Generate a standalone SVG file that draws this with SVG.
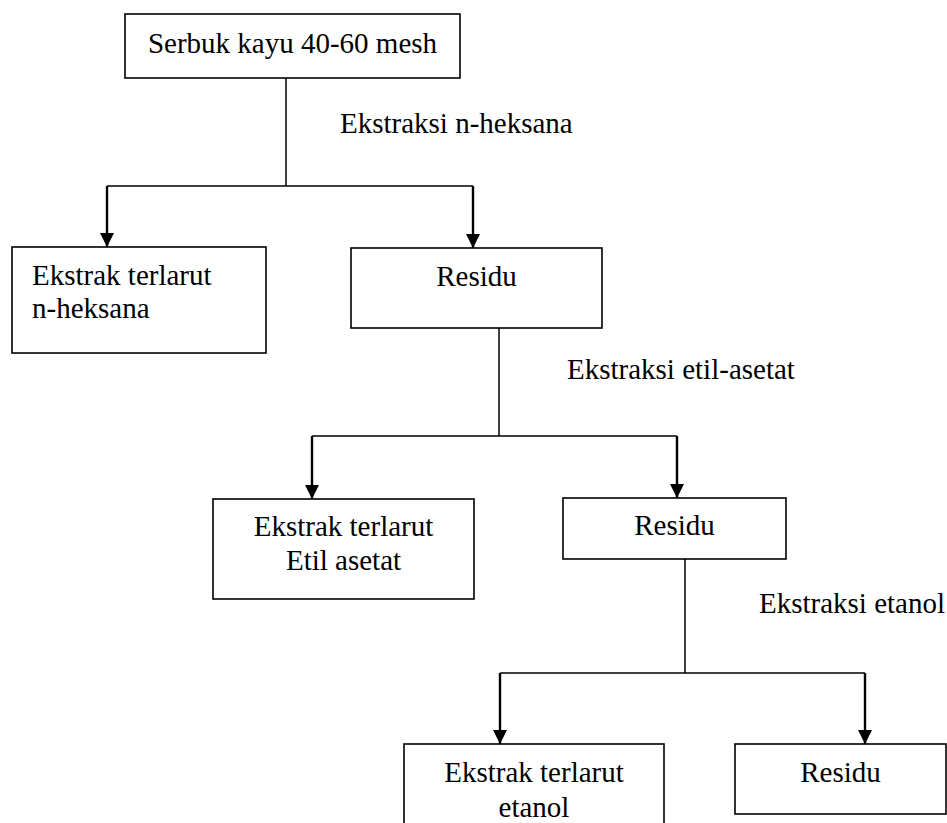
<svg xmlns="http://www.w3.org/2000/svg" width="947" height="823" viewBox="0 0 947 823">
<style>
.box{fill:#fff;stroke:#000;stroke-width:1.6}
.t{font-family:"Liberation Serif","Times New Roman",Times,serif;font-size:29px;fill:#000}
.m{text-anchor:middle}
.ln{fill:none;stroke:#000;stroke-width:1.5}
.ar{fill:none;stroke:#000;stroke-width:2.4}
</style>
<defs>
<marker id="ah" markerUnits="userSpaceOnUse" markerWidth="16" markerHeight="16" viewBox="0 0 16 16" refX="15" refY="8" orient="auto">
<path d="M1,1 L15,8 L1,15 Z" fill="#000"/>
</marker>
</defs>
<rect width="947" height="823" fill="#fff"/>
<g id="connectors">
<path class="ln" d="M286,78 V186 M107,186 H473"/>
<path class="ar" d="M107,186 V247" marker-end="url(#ah)"/>
<path class="ar" d="M473,186 V248" marker-end="url(#ah)"/>
<path class="ln" d="M499,328 V436 M312,436 H677"/>
<path class="ar" d="M312,436 V499" marker-end="url(#ah)"/>
<path class="ar" d="M677,436 V498" marker-end="url(#ah)"/>
<path class="ln" d="M685,559 V673 M500,673 H865"/>
<path class="ar" d="M500,673 V744" marker-end="url(#ah)"/>
<path class="ar" d="M865,673 V744" marker-end="url(#ah)"/>
</g>
<g id="labels">
<text class="t" x="340" y="133">Ekstraksi n-heksana</text>
<text class="t" x="567" y="379">Ekstraksi etil-asetat</text>
<text class="t" x="759" y="613">Ekstraksi etanol</text>
</g>
<g id="serbuk">
<rect class="box" x="125" y="14" width="335" height="64"/>
<text class="t m" x="292.5" y="53">Serbuk kayu 40-60 mesh</text>
</g>
<g id="ekstrak-heksana">
<rect class="box" x="12" y="247" width="254" height="106"/>
<text class="t" x="32" y="285">Ekstrak terlarut</text>
<text class="t" x="32" y="318">n-heksana</text>
</g>
<g id="residu1">
<rect class="box" x="351" y="248" width="251" height="80"/>
<text class="t m" x="476.5" y="286">Residu</text>
</g>
<g id="ekstrak-etilasetat">
<rect class="box" x="213" y="499" width="261" height="100"/>
<text class="t m" x="343.5" y="536">Ekstrak terlarut</text>
<text class="t m" x="343.5" y="570">Etil asetat</text>
</g>
<g id="residu2">
<rect class="box" x="563" y="498" width="223" height="61"/>
<text class="t m" x="674.5" y="535">Residu</text>
</g>
<g id="ekstrak-etanol">
<rect class="box" x="404" y="744" width="260" height="100"/>
<text class="t m" x="534" y="782">Ekstrak terlarut</text>
<text class="t m" x="534" y="817">etanol</text>
</g>
<g id="residu3">
<rect class="box" x="735" y="744" width="211" height="70"/>
<text class="t m" x="840.5" y="782">Residu</text>
</g>
</svg>
